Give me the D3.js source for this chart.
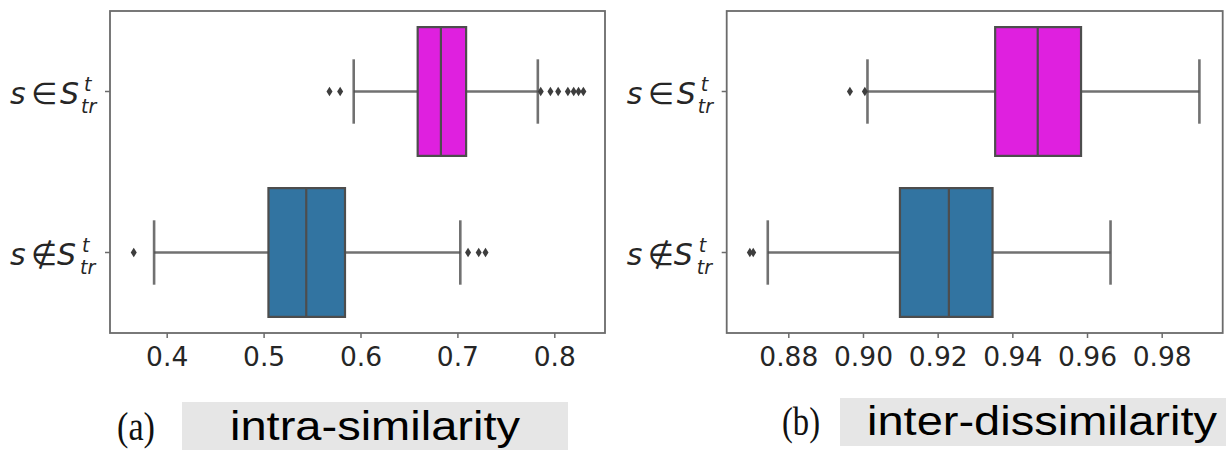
<!DOCTYPE html>
<html><head><meta charset="utf-8">
<script src="https://cdn.jsdelivr.net/npm/d3@7"></script>
<style>html,body{margin:0;padding:0;background:#fff;}svg{display:block;}</style>
</head><body>
<svg id="chart" width="1226" height="451"></svg>
<script>
// ---------- data ----------
const categories = ["in", "notin"];
const boxColors = ["#df20df", "#3274a1"];

// (a) intra-similarity
const intraQ1 = [0.659, 0.505];
const intraMedian = [0.683, 0.544];
const intraQ3 = [0.709, 0.584];
const intraWhiskerLow = [0.593, 0.387];
const intraWhiskerHigh = [0.783, 0.703];
const intraOutliers = [
  [0.568, 0.579, 0.786, 0.796, 0.804, 0.814, 0.820, 0.825, 0.830],
  [0.366, 0.711, 0.722, 0.729]
];
const intraTicks = [0.4, 0.5, 0.6, 0.7, 0.8];
const intraTickLabels = ["0.4", "0.5", "0.6", "0.7", "0.8"];

// (b) inter-dissimilarity
const interQ1 = [0.9354, 0.9099];
const interMedian = [0.9468, 0.9230];
const interQ3 = [0.9584, 0.9347];
const interWhiskerLow = [0.9012, 0.8745];
const interWhiskerHigh = [0.9901, 0.9663];
const interOutliers = [
  [0.8965, 0.9005],
  [0.8697, 0.8706]
];
const interTicks = [0.88, 0.90, 0.92, 0.94, 0.96, 0.98];
const interTickLabels = ["0.88", "0.90", "0.92", "0.94", "0.96", "0.98"];

const captions = ["(a)", "(b)"];
const captionTitles = ["intra-similarity", "inter-dissimilarity"];

// ---------- drawing ----------
const svg = d3.select("#chart");
const lineColor = "#4d4d4d";
const TOP = 11, BOTTOM = 333;

function panel(cfg) {
  const x = d3.scaleLinear().domain(cfg.domain).range([cfg.left, cfg.right]);
  const y = d3.scaleBand().domain(categories).range([TOP, BOTTOM]).padding(0);
  const g = svg.append("g");
  const bw = y.bandwidth() * 0.8;
  const capH = bw * 0.5;

  categories.forEach((c, i) => {
    const cy = y(c) + y.bandwidth() / 2;
    const gg = g.append("g");
    const wStyle = sel => sel.attr("stroke", lineColor).attr("stroke-width", 2.6).attr("stroke-opacity", 0.8);
    gg.append("line").attr("x1", x(cfg.wLow[i])).attr("x2", x(cfg.q1[i]))
      .attr("y1", cy).attr("y2", cy).call(wStyle);
    gg.append("line").attr("x1", x(cfg.q3[i])).attr("x2", x(cfg.wHigh[i]))
      .attr("y1", cy).attr("y2", cy).call(wStyle);
    [cfg.wLow[i], cfg.wHigh[i]].forEach(v => {
      gg.append("line").attr("x1", x(v)).attr("x2", x(v))
        .attr("y1", cy - capH / 2).attr("y2", cy + capH / 2).call(wStyle);
    });
    gg.append("rect").attr("x", x(cfg.q1[i])).attr("width", x(cfg.q3[i]) - x(cfg.q1[i]))
      .attr("y", cy - bw / 2).attr("height", bw)
      .attr("fill", boxColors[i]).attr("stroke", lineColor).attr("stroke-width", 2.2);
    gg.append("line").attr("x1", x(cfg.med[i])).attr("x2", x(cfg.med[i]))
      .attr("y1", cy - bw / 2).attr("y2", cy + bw / 2)
      .attr("stroke", lineColor).attr("stroke-width", 2.2);
    gg.selectAll("path.out").data(cfg.out[i]).enter().append("path")
      .attr("d", d => {
        const px = x(d);
        return `M${px},${cy - 4.8}L${px + 3},${cy}L${px},${cy + 4.8}L${px - 3},${cy}Z`;
      })
      .attr("fill", "#3d3d3d");
  });

  g.append("rect").attr("x", cfg.left).attr("y", TOP)
    .attr("width", cfg.right - cfg.left).attr("height", BOTTOM - TOP)
    .attr("fill", "none").attr("stroke", "#6b6b6b").attr("stroke-width", 1.8);

  const xa = g.append("g").attr("transform", `translate(0,${BOTTOM})`)
    .call(d3.axisBottom(x).tickValues(cfg.ticks).tickSize(5)
      .tickFormat((d, i) => cfg.tickLabels[i]));
  xa.select(".domain").remove();
  xa.selectAll(".tick line").attr("stroke", "#6b6b6b").attr("stroke-width", 1.5);
  xa.selectAll(".tick text").attr("y", 33).attr("dy", 0)
    .attr("fill", "#262626").attr("font-family", "DejaVu Sans")
    .attr("font-size", 26.5);

  const ya = g.append("g").attr("transform", `translate(${cfg.left},0)`)
    .call(d3.axisLeft(y).tickSize(5).tickFormat(""));
  ya.select(".domain").remove();
  ya.selectAll(".tick line").attr("stroke", "#6b6b6b").attr("stroke-width", 1.5);

  // y labels: one text element per label, mathtext-like tspans
  const L = cfg.left;
  const layouts = [
    { s: -100, rel: -79, S: -50, sup: -26, sub: -29, sym: "\u2208" },
    { s: -100, rel: -79, S: -53, sup: -28, sub: -30, sym: "\u2209" }
  ];
  categories.forEach((c, i) => {
    const cy = y(c) + y.bandwidth() / 2;
    const base = cy + 12.5;
    const lay = layouts[i];
    const t = g.append("text").attr("fill", "#262626").attr("font-family", "DejaVu Sans");
    t.append("tspan").attr("x", L + lay.s).attr("y", base).attr("font-size", 30).attr("font-style", "italic").text("s");
    t.append("tspan").attr("x", L + lay.rel).attr("y", base).attr("font-size", 30).text(lay.sym);
    t.append("tspan").attr("x", L + lay.S).attr("y", base).attr("font-size", 30).attr("font-style", "italic").text("S");
    t.append("tspan").attr("x", L + lay.sup).attr("y", base - 13).attr("font-size", 19).attr("font-style", "italic").text("t");
    t.append("tspan").attr("x", L + lay.sub).attr("y", base + 9).attr("font-size", 19).attr("font-style", "italic").text("tr");
  });
}

panel({
  left: 110, right: 605, domain: [0.34149, 0.85232],
  q1: intraQ1, med: intraMedian, q3: intraQ3, wLow: intraWhiskerLow, wHigh: intraWhiskerHigh,
  out: intraOutliers, ticks: intraTicks, tickLabels: intraTickLabels
});
panel({
  left: 726.7, right: 1222.7, domain: [0.8635, 0.99634],
  q1: interQ1, med: interMedian, q3: interQ3, wLow: interWhiskerLow, wHigh: interWhiskerHigh,
  out: interOutliers, ticks: interTicks, tickLabels: interTickLabels
});

const capSpecs = [
  { lx: 117, lw: 38, lb: 440, bx: 182, by: 402, bw: 386, bh: 48, tx: 230, tw: 290, tb: 440 },
  { lx: 782, lw: 38, lb: 435, bx: 840, by: 398, bw: 386, bh: 48, tx: 867, tw: 350, tb: 435 }
];
capSpecs.forEach((s, i) => {
  svg.append("rect").attr("x", s.bx).attr("y", s.by).attr("width", s.bw).attr("height", s.bh).attr("fill", "#e6e6e6");
  svg.append("text").attr("x", s.lx).attr("y", s.lb).attr("font-family", "Liberation Serif")
    .attr("font-size", 40).attr("fill", "#111").attr("textLength", s.lw).attr("lengthAdjust", "spacingAndGlyphs")
    .text(captions[i]);
  svg.append("text").attr("x", s.tx).attr("y", s.tb).attr("font-family", "Liberation Sans")
    .attr("font-size", 40).attr("fill", "#000").attr("textLength", s.tw).attr("lengthAdjust", "spacingAndGlyphs")
    .text(captionTitles[i]);
});
</script>
</body></html>
